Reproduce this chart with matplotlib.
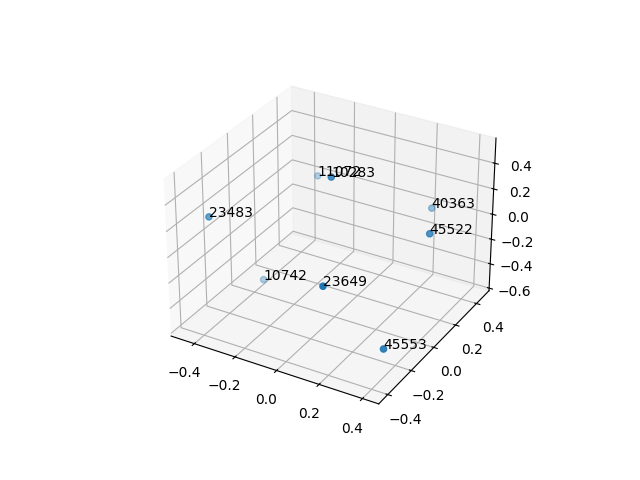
import matplotlib
matplotlib.use('Agg')
import matplotlib.pyplot as plt

labels = ['23483', '11072', '10283', '40363', '45522', '10742', '23649', '45553']
xs = [-0.453, -0.304, 0.009, 0.217, 0.400, -0.379, 0.183, 0.411]
ys = [-0.254, 0.384, -0.043, 0.459, 0.081, 0.043, -0.412, -0.324]
zs = [0.167, 0.065, 0.516, -0.019, 0.166, -0.544, 0.072, -0.370]

fig = plt.figure()
ax = fig.add_subplot(111, projection='3d')
ax.scatter(xs, ys, zs)
for x, y, z, label in zip(xs, ys, zs, labels):
    ax.text(x, y, z, label)
plt.savefig('out.png')
